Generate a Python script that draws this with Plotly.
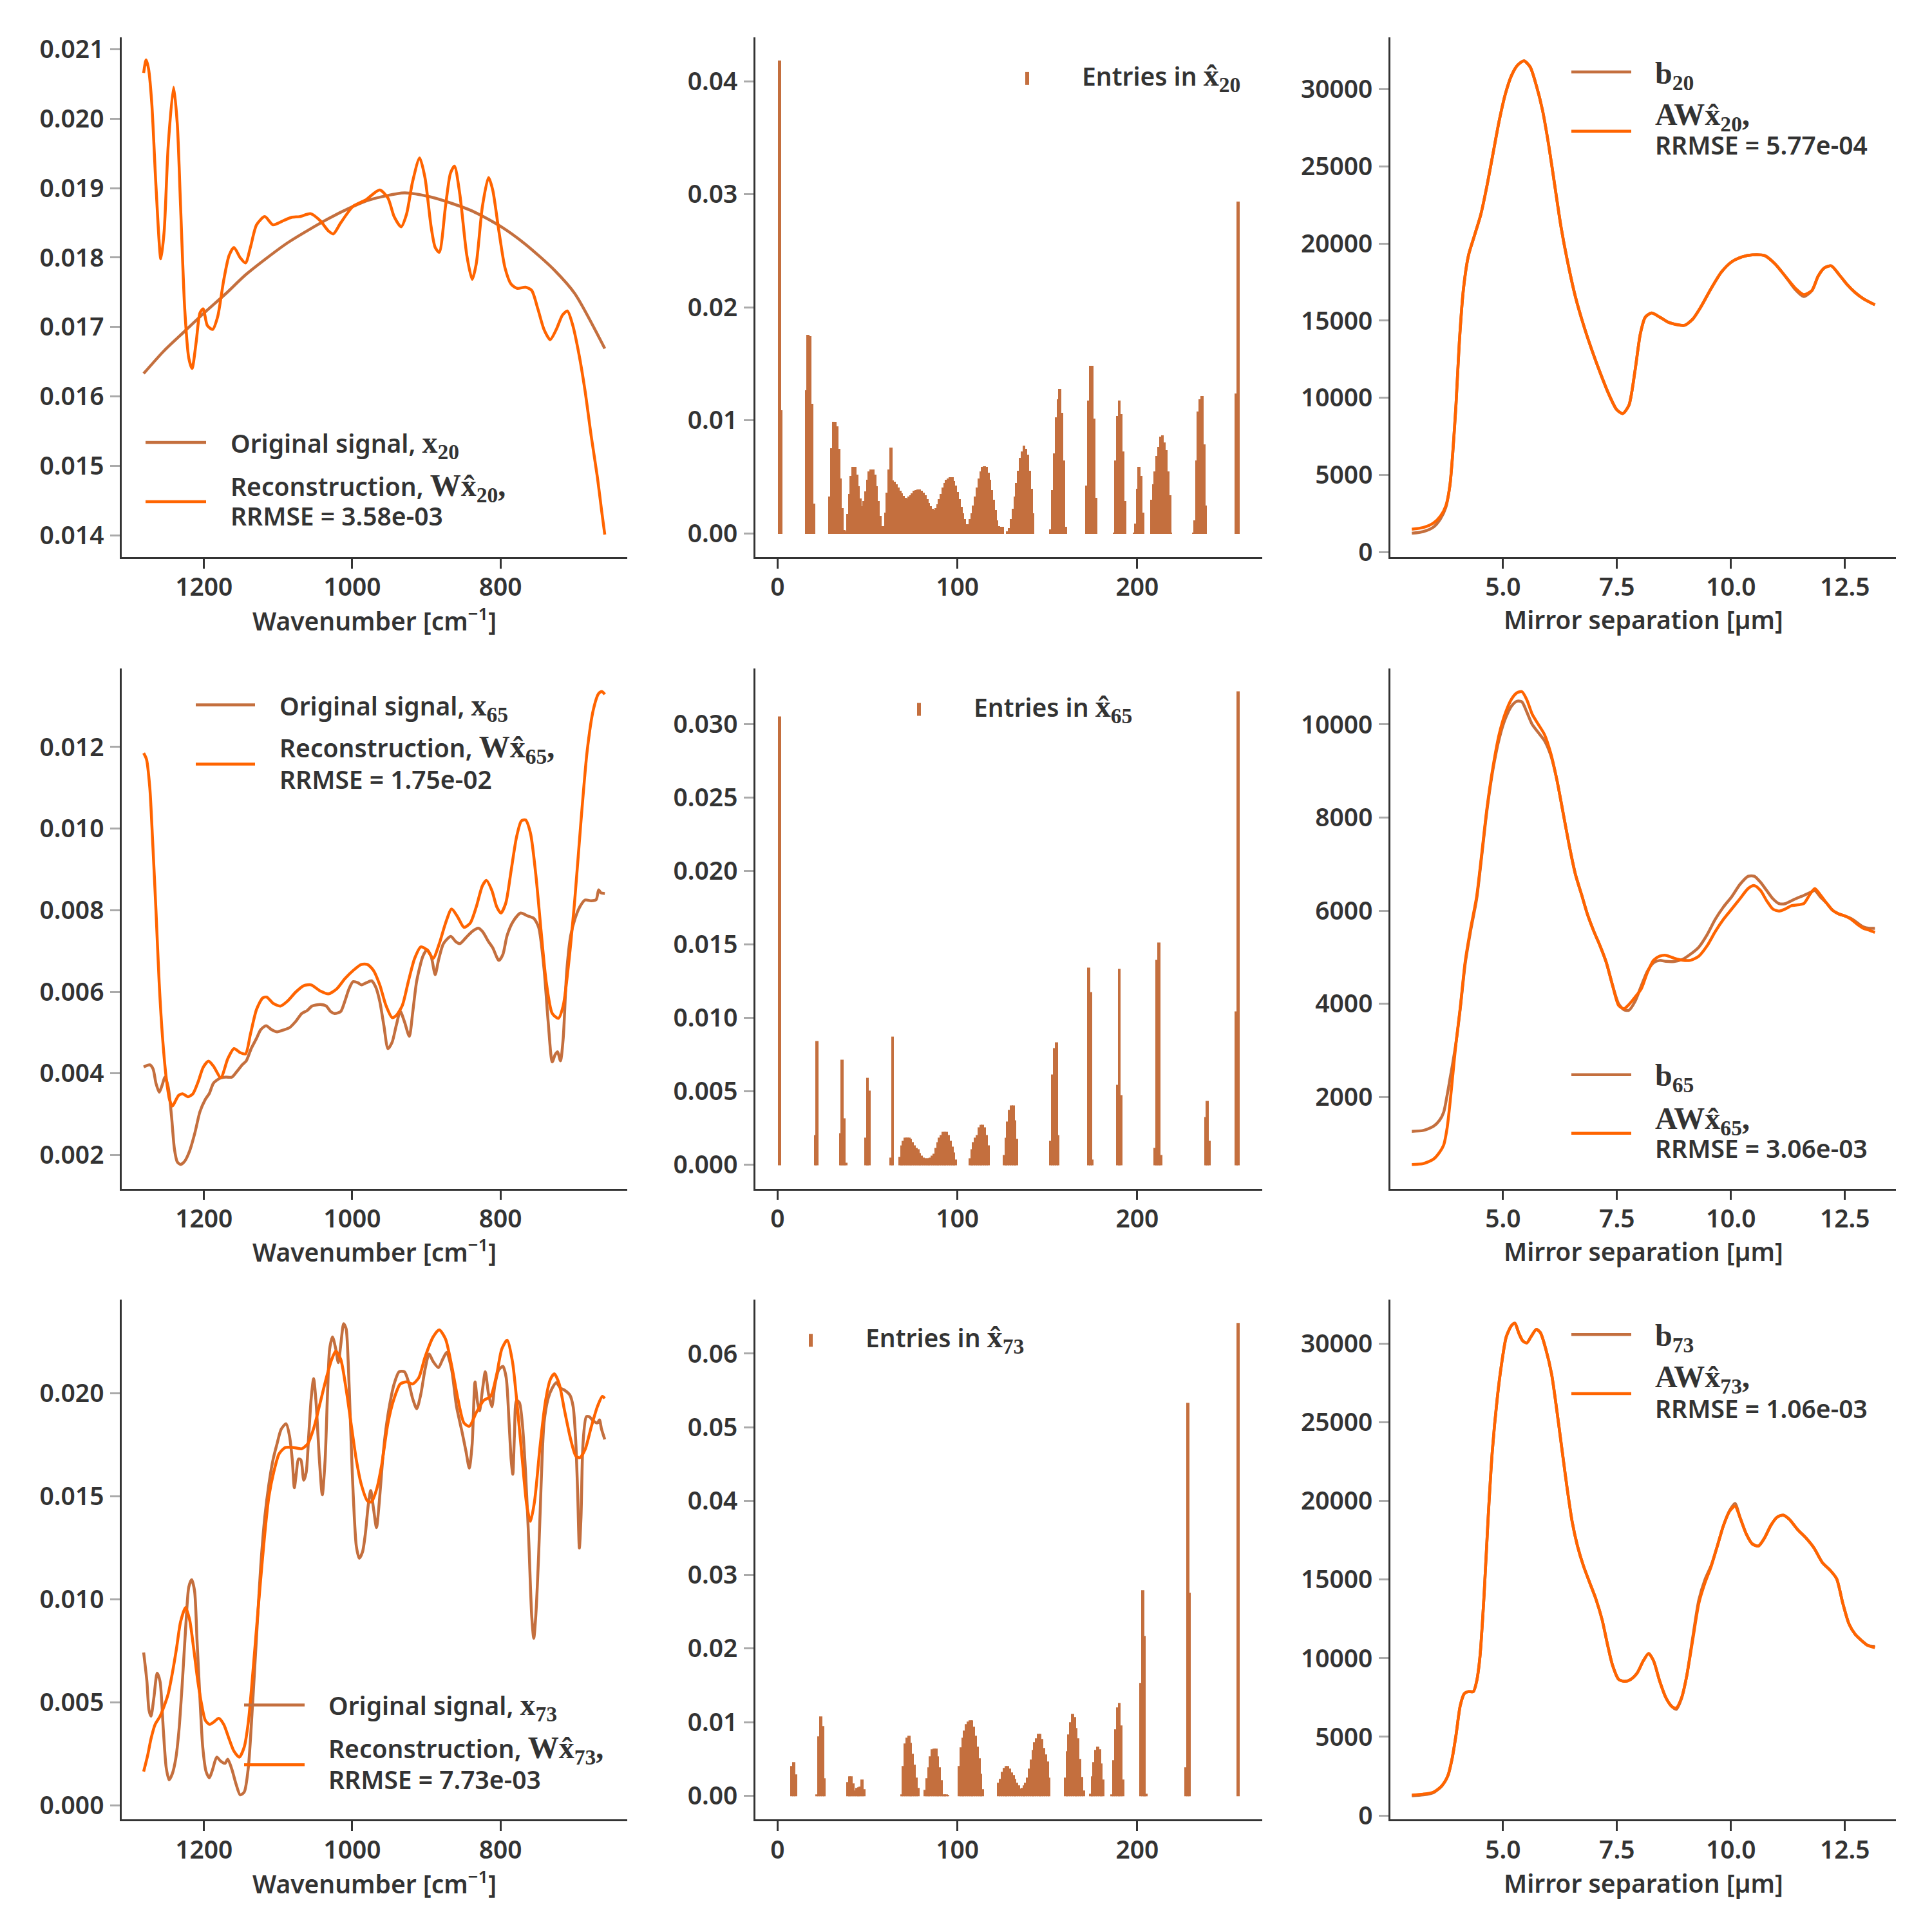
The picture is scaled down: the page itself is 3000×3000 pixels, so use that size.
import plotly.graph_objects as go

BROWN = "#C46F3E"
ORANGE = "#FF6400"
TXT = "#333333"
TICKGREY = "#AAAAAA"
FONT = "Noto Sans"
SERIF = "Liberation Serif"
FS = 39
WEIGHT = 600
MATH_PX = 48

# ---------------- Left column: spectra (wavenumber) ----------------
X20_ORIG_WN = [1281.4, 1253.7, 1226.0, 1200.0, 1170.6, 1142.9, 1087.5, 1032.1, 1000.0, 976.7,
               929.6, 893.6, 865.9, 838.2, 800.0, 766.2, 727.4, 699.7, 659.3]
X20_ORIG = [0.01633, 0.01666, 0.01694, 0.0172, 0.01748, 0.01776, 0.01821, 0.01856, 0.01873, 0.01883,
            0.01893, 0.01887, 0.01878, 0.01867, 0.01845, 0.01819, 0.01782, 0.01748, 0.01669]
X20_REC_WN = [1281.4, 1278.1, 1274.8, 1270.4, 1264.8, 1258.2, 1253.7, 1248.2, 1241.0, 1236.0,
              1231.6, 1226.0, 1220.5, 1216.1, 1210.5, 1205.5, 1201.1, 1195.6, 1188.4, 1181.7,
              1173.4, 1166.2, 1159.6, 1151.2, 1144.0, 1137.4, 1129.1, 1118.0, 1106.9, 1093.1,
              1082.0, 1070.9, 1056.0, 1043.2, 1032.1, 1025.5, 1015.5, 998.9, 982.3, 962.9,
              951.8, 943.5, 934.1, 926.9, 918.6, 909.1, 901.9, 893.6, 888.1, 882.6,
              874.2, 867.6, 862.1, 854.9, 845.4, 838.2, 832.7, 824.4, 816.1, 810.5,
              802.2, 793.9, 785.6, 777.3, 766.2, 757.9, 749.6, 741.3, 733.0, 724.7,
              716.4, 709.7, 702.5, 694.2, 685.9, 677.6, 669.3, 663.7, 659.3]
X20_REC = [0.020657, 0.020846, 0.020716, 0.020214, 0.019032, 0.017981, 0.018383, 0.019623, 0.02045, 0.019918,
           0.018737, 0.017261, 0.016552, 0.016404, 0.016788, 0.017201, 0.017261, 0.017024, 0.016965, 0.017142,
           0.017674, 0.018028, 0.018146, 0.017999, 0.017922, 0.018146, 0.018471, 0.018589, 0.018471, 0.01853,
           0.018578, 0.018589, 0.018631, 0.01853, 0.018383, 0.018341, 0.018501, 0.018737, 0.018826, 0.018973,
           0.018855, 0.018589, 0.018442, 0.018619, 0.019092, 0.019434, 0.019151, 0.018442, 0.018146, 0.018076,
           0.018737, 0.01921, 0.019316, 0.018914, 0.018028, 0.017686, 0.01791, 0.018737, 0.019151, 0.018973,
           0.018383, 0.017851, 0.017615, 0.017556, 0.017573, 0.017526, 0.017261, 0.016965, 0.016818, 0.016965,
           0.017172, 0.017231, 0.017024, 0.016611, 0.016079, 0.015429, 0.014839, 0.014366, 0.014012]

X65_ORIG_WN = [1281.4, 1273.1, 1268.7, 1264.8, 1260.4, 1256.5, 1252.6, 1248.2, 1243.8, 1239.9,
               1236.0, 1231.6, 1226.0, 1219.4, 1212.2, 1205.5, 1198.3, 1192.8, 1187.3, 1178.9,
               1170.6, 1162.3, 1155.1, 1148.5, 1142.9, 1136.3, 1129.1, 1123.5, 1116.3, 1108.6,
               1101.4, 1092.0, 1084.8, 1076.5, 1068.1, 1060.9, 1054.3, 1043.2, 1034.9, 1029.4,
               1023.8, 1015.5, 1010.0, 1004.4, 998.9, 992.2, 987.8, 981.2, 974.0, 968.4,
               962.9, 957.3, 951.8, 946.3, 940.7, 935.2, 929.6, 923.0, 918.6, 913.0,
               904.7, 899.2, 893.6, 888.1, 883.7, 877.0, 867.0, 860.4, 854.9, 846.5,
               838.2, 829.9, 824.4, 816.1, 810.5, 802.2, 796.7, 791.1, 782.8, 772.9,
               763.4, 755.1, 748.5, 741.3, 735.7, 730.2, 726.3, 723.0, 719.1, 715.4,
               710.8, 705.3, 699.7, 693.1, 685.9, 677.6, 670.9, 667.6, 664.8, 659.3]
X65_ORIG = [0.00416, 0.00421, 0.00411, 0.00376, 0.00354, 0.00371, 0.00391, 0.00366, 0.00295, 0.00215,
            0.00183, 0.00177, 0.00185, 0.0021, 0.00255, 0.00306, 0.00336, 0.00351, 0.00376, 0.00388,
            0.00391, 0.00391, 0.00406, 0.00421, 0.00431, 0.00461, 0.00486, 0.00507, 0.00517, 0.00507,
            0.00502, 0.00507, 0.00512, 0.00527, 0.00547, 0.00554, 0.00565, 0.00569, 0.00565, 0.00552,
            0.00547, 0.00552, 0.00577, 0.00607, 0.00625, 0.00622, 0.00617, 0.00622, 0.00627, 0.00612,
            0.00577, 0.00517, 0.00461, 0.00476, 0.00517, 0.00552, 0.00527, 0.00491, 0.00547, 0.00627,
            0.00687, 0.00703, 0.00687, 0.00642, 0.00677, 0.00718, 0.00736, 0.00723, 0.00718, 0.00733,
            0.00748, 0.00756, 0.00748, 0.00723, 0.00708, 0.00677, 0.00692, 0.00738, 0.00773, 0.00793,
            0.00786, 0.0078, 0.00758, 0.00657, 0.00527, 0.00428, 0.00446, 0.00453, 0.00431, 0.00486,
            0.00647, 0.00738, 0.00778, 0.00808, 0.00825, 0.00823, 0.00826, 0.0085, 0.00843, 0.00841]
X65_REC_WN = [1281.4, 1277.6, 1273.1, 1269.3, 1264.8, 1260.4, 1256.0, 1251.0, 1246.5, 1242.7,
              1234.3, 1228.8, 1221.6, 1215.0, 1207.8, 1201.1, 1193.9, 1187.3,
              1177.3, 1167.9, 1159.6, 1151.2, 1144.0, 1137.4, 1129.1, 1120.8, 1115.2, 1106.9,
              1096.9, 1087.5, 1076.5, 1065.4, 1055.4, 1043.2, 1032.1, 1021.0, 1010.0, 998.9,
              987.8, 979.5, 971.2, 962.9, 954.6, 946.3, 940.7, 932.4, 924.1, 915.8,
              907.5, 899.2, 890.9, 882.6, 874.2, 865.9, 857.6, 849.3, 841.0, 832.7,
              824.4, 818.8, 811.6, 805.0, 799.5, 792.8, 785.6, 778.4, 771.8, 766.2,
              759.6, 752.4, 745.2, 738.5, 730.2, 721.9, 715.3, 708.2, 699.7, 691.4,
              683.1, 674.8, 667.6, 663.2, 659.3]
X65_REC = [0.01185, 0.0117, 0.0110, 0.0097, 0.0080, 0.0062, 0.0049, 0.0039, 0.00336, 0.0032,
           0.00346, 0.0035, 0.00343, 0.0035, 0.0038, 0.00415, 0.0043, 0.00418,
           0.0039, 0.00436, 0.00461, 0.00451, 0.00448, 0.00496, 0.00557, 0.00585, 0.00587, 0.00572,
           0.00565, 0.00577, 0.00599, 0.00615, 0.00617, 0.00602, 0.00595, 0.00607, 0.00632, 0.00652,
           0.00667, 0.00667, 0.00652, 0.00617, 0.00567, 0.00537, 0.00542, 0.00567, 0.00627, 0.00682,
           0.0071, 0.00703, 0.00682, 0.00718, 0.00768, 0.00803, 0.00783, 0.00758, 0.00768, 0.00808,
           0.0086, 0.00873, 0.00848, 0.00808, 0.00793, 0.00818, 0.00898, 0.00979, 0.01019, 0.01021,
           0.00989, 0.00888, 0.00748, 0.00627, 0.00547, 0.00535, 0.00567, 0.00667, 0.00828, 0.01019,
           0.0119, 0.01291, 0.01331, 0.01336, 0.01329]

X73_ORIG_WN = [1281.4, 1277.0, 1274.2, 1271.5, 1267.6, 1263.2, 1259.3, 1254.8, 1251.0, 1247.1,
               1242.7, 1238.2, 1233.8, 1228.8, 1224.4, 1220.5, 1216.6, 1212.7, 1209.4, 1205.5,
               1201.7, 1197.2, 1192.8, 1188.4, 1182.8, 1177.3, 1171.7, 1167.9, 1162.3, 1156.8,
               1151.2, 1145.7, 1140.2, 1134.6, 1129.1, 1123.5, 1118.0, 1112.5, 1106.9, 1101.4,
               1095.8, 1089.2, 1084.8, 1080.9, 1078.1, 1075.3, 1072.6, 1069.3, 1065.4, 1062.1,
               1058.7, 1055.4, 1052.1, 1048.8, 1044.3, 1040.4, 1036.6, 1033.2, 1030.5, 1026.6,
               1022.2, 1018.8, 1015.5, 1011.6, 1008.3, 1005.5, 1002.8, 1000.0, 997.2, 994.5,
               990.6, 986.2, 982.3, 978.4, 975.1, 971.2, 967.3, 963.4, 959.0, 954.6,
               949.0, 943.5, 936.8, 929.6, 924.1, 918.6, 913.0, 907.5, 901.9, 896.4,
               890.9, 883.7, 878.1, 872.6, 865.9, 859.3, 852.1, 846.5, 842.1, 838.2,
               834.4, 831.0, 828.3, 824.4, 820.5, 816.1, 811.6, 807.8, 802.2, 796.7,
               792.3, 788.4, 785.6, 783.4, 781.2, 778.4, 774.5, 770.6, 766.2, 761.8,
               757.9, 755.1, 752.4, 748.5, 745.2, 741.3, 735.7, 730.2, 724.7, 719.1,
               713.6, 706.4, 702.0, 698.6, 695.9, 693.6, 691.4, 688.7, 684.2, 680.3,
               674.8, 669.3, 666.5, 663.7, 659.3]
X73_ORIG = [0.00742, 0.00602, 0.00463, 0.00433, 0.00523, 0.00642, 0.00602, 0.00364, 0.00185, 0.00125,
            0.00155, 0.00225, 0.00364, 0.00622, 0.00881, 0.0106, 0.01095, 0.0104, 0.00801, 0.00523,
            0.00284, 0.00165, 0.00135, 0.00175, 0.00235, 0.00215, 0.00205, 0.00225, 0.00175, 0.00105,
            0.00052, 0.00066, 0.00185, 0.00483, 0.00821, 0.01159, 0.01398, 0.01557, 0.01676, 0.01755,
            0.01825, 0.01851, 0.01795, 0.01676, 0.01541, 0.01616, 0.0168, 0.01676, 0.01577, 0.01616,
            0.01795, 0.01974, 0.0207, 0.01954, 0.01676, 0.01507, 0.01676, 0.02014, 0.02213, 0.02272,
            0.02213, 0.02147, 0.02233, 0.02336, 0.02312, 0.02153, 0.01895, 0.01616, 0.01398, 0.01258,
            0.01199, 0.01229, 0.01318, 0.01457, 0.01527, 0.01437, 0.01348, 0.01477, 0.01676, 0.01825,
            0.01954, 0.02044, 0.02103, 0.02103, 0.02054, 0.01974, 0.01924, 0.01994, 0.02113, 0.02189,
            0.02153, 0.02123, 0.02163, 0.02197, 0.02113, 0.01934, 0.01815, 0.01716, 0.01636, 0.01755,
            0.02054, 0.01954, 0.01914, 0.02014, 0.02103, 0.01994, 0.01934, 0.02034, 0.02113, 0.02129,
            0.02074, 0.01855, 0.01676, 0.01606, 0.01795, 0.01964, 0.01954, 0.01855, 0.01616, 0.01278,
            0.0092, 0.00811, 0.0092, 0.01219, 0.01557, 0.01855, 0.01974, 0.02024, 0.0205, 0.02024,
            0.02014, 0.0199, 0.01934, 0.01775, 0.01517, 0.01249, 0.01398, 0.01755, 0.01885, 0.01885,
            0.01865, 0.01855, 0.0187, 0.01825, 0.01775]
X73_REC_WN = [1281.4, 1275.9, 1271.5, 1265.9, 1259.3, 1253.7, 1248.2, 1242.7, 1237.1, 1231.6,
              1224.9, 1219.4, 1213.9, 1208.3, 1202.8, 1198.3, 1192.8, 1187.3, 1180.1, 1173.4,
              1166.2, 1159.6, 1152.4, 1145.7, 1140.2, 1134.6, 1129.1, 1123.5, 1118.0, 1112.5,
              1105.3, 1098.6, 1090.3, 1079.2, 1068.1, 1059.8, 1051.5, 1043.2, 1034.9, 1027.7,
              1022.2, 1015.5, 1008.9, 1001.7, 994.5, 987.8, 979.5, 974.0, 966.8, 960.1,
              951.8, 943.5, 935.2, 926.9, 918.6, 910.3, 901.9, 890.9, 882.6, 874.2,
              865.9, 857.6, 849.3, 842.1, 832.7, 822.7, 813.3, 805.0, 798.3, 791.1,
              783.9, 777.3, 770.6, 764.6, 759.6, 754.0, 746.8, 739.6, 733.0, 727.4,
              720.8, 713.6, 705.3, 698.6, 693.1, 685.9, 677.6, 669.3, 662.6, 659.3]
X73_REC = [0.00165, 0.00245, 0.00324, 0.00394, 0.00433, 0.00483, 0.00543, 0.00642, 0.00761, 0.00891,
           0.0096, 0.00901, 0.00761, 0.00602, 0.00483, 0.00414, 0.00394, 0.00404, 0.00423, 0.00394,
           0.00324, 0.00264, 0.00235, 0.00284, 0.00404, 0.00622, 0.00861, 0.01099, 0.01318, 0.01497,
           0.01626, 0.01706, 0.01736, 0.01736, 0.0173, 0.01755, 0.01835, 0.01954, 0.02074, 0.02163,
           0.02203, 0.02163, 0.02034, 0.01855, 0.01676, 0.01557, 0.01477, 0.01473, 0.01537, 0.01656,
           0.01855, 0.01974, 0.02044, 0.02054, 0.02044, 0.02074, 0.02173, 0.02272, 0.02306, 0.02262,
           0.02133, 0.01974, 0.01855, 0.01839, 0.01905, 0.01964, 0.01984, 0.02093, 0.02213, 0.02256,
           0.02153, 0.01934, 0.01676, 0.01457, 0.01378, 0.01477, 0.01736, 0.01954, 0.02064, 0.02093,
           0.02044, 0.01915, 0.01775, 0.01696, 0.01686, 0.01726, 0.01835, 0.01934, 0.01984, 0.01974]

# ---------------- Middle column: sparse coefficients ----------------
IDX = list(range(1, 257))
XHAT20 = [
    0.0418, 0.01085, 0, 0, 0, 0, 0, 0, 0, 0,
    0, 0, 0, 0, 0, 0.0126, 0.0175, 0.0174, 0.0114, 0.0026,
    0, 0, 0, 0, 0, 0, 0, 0, 0.0032, 0.0075,
    0.0098, 0.0098, 0.0094, 0.0074, 0.0048, 0.0022, 0.00027, 0.00015, 0.00165, 0.00345,
    0.005, 0.00585, 0.00585, 0.00514, 0.0041, 0.00305, 0.00237, 0.0028, 0.00368, 0.0047,
    0.00545, 0.0056, 0.0056, 0.00516, 0.00414, 0.00283, 0.00152, 0.00057, 0.0006, 0.0018,
    0.00357, 0.0056, 0.00755, 0.00465, 0.0045, 0.0043, 0.004, 0.00374, 0.0035, 0.00328,
    0.0031, 0.00304, 0.0032, 0.0033, 0.0035, 0.0037, 0.0038, 0.00385, 0.00383, 0.0037,
    0.00357, 0.0033, 0.003, 0.00266, 0.00237, 0.00213, 0.002, 0.0022, 0.0025, 0.003,
    0.00345, 0.004, 0.0044, 0.0047, 0.0048, 0.0049, 0.0049, 0.0046, 0.0042, 0.0036,
    0.003, 0.0023, 0.0017, 0.0012, 0.00076, 0.00076, 0.0012, 0.0017, 0.0024, 0.0032,
    0.004, 0.0048, 0.0054, 0.0058, 0.0059, 0.00585, 0.0053, 0.0047, 0.0038, 0.0029,
    0.002, 0.0011, 0.00057, 0.0005, 0.0005, 0, 0, 0.0001, 0.0004, 0.0012,
    0.0021, 0.0032, 0.0044, 0.0055, 0.0066, 0.0072, 0.0077, 0.0074, 0.0069, 0.0055,
    0.0039, 0.0017, 0, 0, 0, 0, 0, 0, 0, 0,
    0, 0.0003, 0.0038, 0.007, 0.0102, 0.0118, 0.0127, 0.0106, 0.0064, 0.00055,
    0, 0, 0, 0, 0, 0, 0, 0, 0, 0,
    0, 0.0042, 0.0117, 0.0148, 0.0148, 0.0101, 0.0031, 0, 0, 0,
    0, 0, 0, 0, 0, 0, 0.00004, 0.0064, 0.0103, 0.0117,
    0.0105, 0.0072, 0.0028, 0, 0, 0, 0, 0.00003, 0.0008, 0.0039,
    0.0058, 0.005, 0.0018, 0, 0, 0, 0, 0.0029, 0.0043, 0.0054,
    0.0068, 0.0076, 0.0085, 0.0086, 0.008, 0.0073, 0.0054, 0.0033, 0.00004, 0,
    0, 0, 0, 0, 0, 0, 0, 0, 0, 0,
    0.00004, 0.0011, 0.0064, 0.0107, 0.0118, 0.0121, 0.0078, 0.0024, 0, 0,
    0, 0, 0, 0, 0, 0, 0, 0, 0, 0,
    0, 0, 0, 0, 0.0123, 0.0293]
XHAT65 = [
    0.0305, 0, 0, 0, 0, 0, 0, 0, 0, 0,
    0, 0, 0, 0, 0, 0, 0, 0, 0, 0,
    0.002, 0.0084, 0, 0, 0, 0, 0, 0, 0, 0,
    0, 0, 0, 0, 0.0021, 0.0071, 0.0031, 0.0001, 0, 0,
    0, 0, 0, 0, 0, 0, 0, 0, 0.0018, 0.0059,
    0.005, 0, 0, 0, 0, 0, 0, 0, 0, 0,
    0, 0, 0.00045, 0.0087, 0, 0, 0, 0.0005, 0.0013, 0.0016,
    0.0018, 0.0018, 0.0018, 0.0017, 0.0015, 0.0013, 0.0011, 0.001, 0.00075, 0.00056,
    0.00045, 0.00042, 0.00042, 0.00042, 0.00045, 0.00056, 0.0007, 0.0011, 0.0015, 0.0018,
    0.002, 0.0022, 0.0022, 0.0022, 0.002, 0.0016, 0.0012, 0.0008, 0.0003, 0,
    0, 0, 0, 0, 0, 0, 0.0004, 0.001, 0.0015, 0.0018,
    0.002, 0.0025, 0.0027, 0.0027, 0.0025, 0.002, 0.0013, 0, 0, 0,
    0, 0, 0, 0, 0, 0.00064, 0.0018, 0.0029, 0.0037, 0.004,
    0.004, 0.003, 0.0017, 0, 0, 0, 0, 0, 0, 0,
    0, 0, 0, 0, 0, 0, 0, 0, 0, 0,
    0, 0.0016, 0.0061, 0.0079, 0.0083, 0.002, 0, 0, 0, 0,
    0, 0, 0, 0, 0, 0, 0, 0, 0, 0,
    0, 0, 0.0134, 0.0117, 0.0003, 0, 0, 0, 0, 0,
    0, 0, 0, 0, 0, 0, 0, 0, 0.0054, 0.0133,
    0.0047, 0, 0, 0, 0, 0, 0, 0, 0, 0,
    0, 0, 0, 0, 0, 0, 0, 0, 0, 0.0011,
    0.0139, 0.0151, 0.00064, 0, 0, 0, 0, 0, 0, 0,
    0, 0, 0, 0, 0, 0, 0, 0, 0, 0,
    0, 0, 0, 0, 0, 0, 0, 0.0032, 0.0043, 0.0016,
    0, 0, 0, 0, 0, 0, 0, 0, 0, 0,
    0, 0, 0, 0, 0.0104, 0.0322]
XHAT73 = [
    0, 0, 0, 0, 0, 0, 0, 0.004, 0.0045, 0.0028,
    0, 0, 0, 0, 0, 0, 0, 0, 0, 0,
    0, 0.0001, 0.008, 0.0107, 0.0094, 0.0023, 0, 0, 0, 0,
    0, 0, 0, 0, 0, 0, 0, 0, 0.0018, 0.0026,
    0.0026, 0.0016, 0.0006, 0.001, 0.0011, 0.0012, 0.0021, 0.0008, 0, 0,
    0, 0, 0, 0, 0, 0, 0, 0, 0, 0,
    0, 0, 0, 0, 0, 0, 0, 0, 0.0001, 0.004,
    0.007, 0.0078, 0.0081, 0.0071, 0.0056, 0.0041, 0.0024, 0.001, 0, 0,
    0, 0.0007, 0.0023, 0.0038, 0.0053, 0.0062, 0.0063, 0.0063, 0.0053, 0.0038,
    0.002, 0.0001, 0.0001, 0.0001, 0.00005, 0, 0, 0, 0, 0,
    0.004, 0.0065, 0.0078, 0.0088, 0.0096, 0.01, 0.0102, 0.0102, 0.0093, 0.0081,
    0.0066, 0.005, 0.0029, 0.0008, 0, 0, 0, 0, 0, 0,
    0, 0, 0.0017, 0.0022, 0.0032, 0.0037, 0.004, 0.004, 0.0036, 0.0031,
    0.0027, 0.0022, 0.0017, 0.0013, 0.0009, 0.001, 0.0013, 0.0017, 0.0024, 0.0036,
    0.0048, 0.0061, 0.0072, 0.0077, 0.0083, 0.0083, 0.0076, 0.0064, 0.0055, 0.0046,
    0.0024, 0, 0, 0, 0, 0, 0, 0, 0, 0.0024,
    0.006, 0.0082, 0.0099, 0.011, 0.0106, 0.0091, 0.0077, 0.0049, 0.0025, 0.0006,
    0, 0, 0, 0.0002, 0.0026, 0.0045, 0.0061, 0.0066, 0.0062, 0.0043,
    0.0021, 0, 0, 0, 0, 0.0001, 0.0047, 0.0089, 0.0119, 0.0125,
    0.0095, 0.0021, 0, 0, 0, 0, 0, 0, 0, 0,
    0, 0.0152, 0.0278, 0.0216, 0.0002, 0, 0, 0, 0, 0,
    0, 0, 0, 0, 0, 0, 0, 0, 0, 0,
    0, 0, 0, 0, 0, 0, 0.0038, 0.0532, 0.0275, 0,
    0, 0, 0, 0, 0, 0, 0, 0, 0, 0,
    0, 0, 0, 0, 0, 0, 0, 0, 0, 0,
    0, 0, 0, 0, 0, 0.0641]

# ---------------- Right column: interferograms (mirror separation) ----------------
UM20 = [3.0, 3.249, 3.475, 3.628, 3.746, 3.836, 3.899, 3.971, 4.043, 4.134,
        4.242, 4.377, 4.513, 4.648, 4.783, 4.919, 5.054, 5.19, 5.325, 5.46,
        5.596, 5.731, 5.866, 6.002, 6.137, 6.273, 6.408, 6.588, 6.769, 6.949,
        7.13, 7.31, 7.491, 7.626, 7.762, 7.897, 8.014, 8.123, 8.258, 8.439,
        8.619, 8.8, 8.98, 9.161, 9.341, 9.567, 9.792, 10.018, 10.244, 10.469,
        10.74, 10.966, 11.191, 11.417, 11.597, 11.778, 11.913, 12.048, 12.202, 12.364,
        12.545, 12.725, 12.906, 13.159]
B20 = [1222, 1329, 1620, 2150, 2900, 4331, 6456, 9645, 13630, 17085,
       19210, 20539, 21867, 23727, 25852, 27978, 29705, 30901, 31566, 31831,
       31432, 30237, 28643, 26384, 23727, 21070, 18944, 16553, 14693, 13099,
       11638, 10309, 9246, 8981, 9512, 11770, 14162, 15225, 15490, 15225,
       14906, 14746, 14693, 15092, 15889, 17084, 18147, 18812, 19130, 19263,
       19210, 18679, 17882, 17000, 16560, 16952, 17882, 18413, 18546, 18015,
       17350, 16819, 16420, 16022]
AWX20 = [1488, 1594, 1886, 2338, 3002, 4331, 6456, 9645, 13630, 17085,
         19210, 20539, 21867, 23727, 25852, 27978, 29705, 30901, 31566, 31831,
         31432, 30237, 28643, 26384, 23727, 21070, 18944, 16553, 14693, 13099,
         11638, 10309, 9246, 8981, 9512, 11770, 14162, 15225, 15490, 15225,
         14906, 14746, 14693, 15092, 15889, 17084, 18147, 18812, 19130, 19263,
         19210, 18679, 17882, 17085, 16686, 16952, 17882, 18413, 18546, 18015,
         17350, 16819, 16420, 16022]

UM65 = [3.0, 3.249, 3.475, 3.61, 3.7, 3.773, 3.836, 3.899, 3.971, 4.061,
        4.17, 4.287, 4.422, 4.531, 4.648, 4.783, 4.919, 5.054, 5.19, 5.307,
        5.415, 5.523, 5.641, 5.776, 5.912, 6.047, 6.182, 6.318, 6.453, 6.588,
        6.724, 6.859, 6.995, 7.13, 7.265, 7.401, 7.536, 7.653, 7.762, 7.897,
        8.032, 8.168, 8.303, 8.439, 8.574, 8.754, 8.935, 9.115, 9.296, 9.476,
        9.657, 9.837, 10.018, 10.198, 10.379, 10.514, 10.65, 10.785, 10.92, 11.056,
        11.191, 11.327, 11.462, 11.597, 11.733, 11.841, 11.958, 12.094, 12.229, 12.364,
        12.5, 12.635, 12.771, 12.906, 13.041, 13.159]
B65 = [1260, 1278, 1366, 1498, 1674, 2026, 2379, 2731, 3172, 3880,
       4850, 5550, 6250, 7150, 8150, 9050, 9700, 10130, 10400, 10500,
       10485, 10265, 10000, 9824, 9648, 9340, 8811, 8106, 7401, 6784,
       6344, 5903, 5551, 5242, 4890, 4405, 4000, 3870, 3860, 4050,
       4380, 4700, 4880, 4930, 4910, 4908, 4952, 5066, 5216, 5480,
       5815, 6080, 6300, 6564, 6740, 6740, 6608, 6432, 6256, 6150,
       6150, 6212, 6273, 6326, 6388, 6432, 6300, 6168, 6009, 5930,
       5886, 5830, 5740, 5650, 5620, 5621]
AWX65 = [546, 564, 661, 811, 969, 1322, 1850, 2467, 3172, 3900,
         4900, 5600, 6300, 7200, 8200, 9100, 9800, 10250, 10550, 10680,
         10705, 10529, 10220, 10000, 9780, 9384, 8811, 8106, 7401, 6784,
         6344, 5903, 5551, 5242, 4890, 4405, 3965, 3894, 3982, 4141,
         4317, 4670, 4934, 5022, 5040, 4978, 4934, 4934, 5022, 5242,
         5551, 5815, 6035, 6256, 6476, 6538, 6432, 6212, 6035, 5991,
         6035, 6106, 6124, 6150, 6350, 6476, 6344, 6168, 6009, 5930,
         5886, 5815, 5709, 5621, 5577, 5533]

UM73 = [3.0, 3.249, 3.475, 3.655, 3.791, 3.881, 3.971, 4.061, 4.152, 4.242,
        4.35, 4.422, 4.495, 4.585, 4.675, 4.765, 4.874, 4.964, 5.072, 5.19,
        5.262, 5.343, 5.433, 5.523, 5.614, 5.731, 5.821, 5.939, 6.065, 6.182,
        6.3, 6.408, 6.516, 6.634, 6.769, 6.904, 7.04, 7.175, 7.292, 7.401,
        7.536, 7.671, 7.807, 7.942, 8.078, 8.195, 8.303, 8.439, 8.574, 8.709,
        8.8, 8.917, 9.025, 9.161, 9.296, 9.431, 9.567, 9.702, 9.837, 9.973,
        10.09, 10.198, 10.334, 10.469, 10.605, 10.74, 10.875, 11.011, 11.146, 11.281,
        11.462, 11.642, 11.823, 12.003, 12.184, 12.319, 12.455, 12.59, 12.725, 12.861,
        12.996, 13.159]
B73 = [1250, 1310, 1450, 1860, 2520, 3574, 5139, 6965, 7748, 7878,
       7878, 8530, 10096, 14009, 18965, 23139, 26530, 28617, 30443, 31174,
       31304, 30704, 30183, 30052, 30443, 30913, 30704, 29661, 28096, 25748,
       23139, 20791, 18705, 17139, 15835, 14791, 13748, 12443, 10878, 9574,
       8661, 8530, 8661, 9052, 9835, 10304, 9835, 8530, 7487, 6913,
       6750, 7450, 8791, 11300, 13700, 15000, 15900, 17139, 18443, 19400,
       19850, 18965, 17922, 17270, 17139, 17661, 18443, 18965, 19096, 18835,
       18183, 17661, 17009, 16096, 15574, 15052, 13487, 12183, 11530, 11139,
       10826, 10750]
AWX73 = [1304, 1357, 1487, 1878, 2530, 3574, 5139, 6965, 7748, 7878,
         7878, 8530, 10096, 14009, 18965, 23139, 26530, 28617, 30443, 31174,
         31304, 30704, 30183, 30052, 30443, 30913, 30704, 29661, 28096, 25748,
         23139, 20791, 18705, 17139, 15835, 14791, 13748, 12443, 10878, 9574,
         8661, 8530, 8661, 9052, 9835, 10304, 9835, 8530, 7487, 6913,
         6835, 7487, 8791, 11139, 13487, 14791, 15835, 17139, 18443, 19357,
         19670, 18965, 17922, 17270, 17139, 17661, 18443, 18965, 19096, 18835,
         18183, 17661, 17009, 16096, 15574, 15052, 13487, 12183, 11530, 11139,
         10826, 10670]

SIGNAL_IDS = ["20", "65", "73"]
RRMSE_X = ["3.58e-03", "1.75e-02", "7.73e-03"]
RRMSE_B = ["5.77e-04", "3.06e-03", "1.06e-03"]

WN_TICKS = [1200, 1000, 800]
IDX_TICKS = [0, 100, 200]
UM_TICKS = [5.0, 7.5, 10.0, 12.5]
UM_TICKTEXT = ["5.0", "7.5", "10.0", "12.5"]

# ---------------- Layout geometry (target pixels in 3000x3000 picture) ----------------
W = H = 3000
COLX = [(189, 974), (1173, 1960), (2159, 2944)]
ROWY = [(56, 864), (1037, 1846), (2019, 2827)]
# vertical calibration of the page capture (measured: picture_y ~= 8 + 0.992 * page_y)
Y_OFF, Y_SCALE = 8.0, 0.992


def vy(y):
    """target picture row -> page pixel row"""
    return (y - Y_OFF) / Y_SCALE


YRANGES = [
    [[0.01369, 0.02117], [-0.00209, 0.04389], [-312, 33354]],
    [[0.00118, 0.01393], [-0.00161, 0.03381], [30, 11208]],
    [[-0.00067, 0.02452], [-0.0032, 0.0673], [-254, 32797]],
]
YTICKS = [
    [[0.014, 0.015, 0.016, 0.017, 0.018, 0.019, 0.020, 0.021], [0.0, 0.01, 0.02, 0.03, 0.04],
     [0, 5000, 10000, 15000, 20000, 25000, 30000]],
    [[0.002, 0.004, 0.006, 0.008, 0.010, 0.012], [0.0, 0.005, 0.010, 0.015, 0.020, 0.025, 0.030],
     [2000, 4000, 6000, 8000, 10000]],
    [[0.0, 0.005, 0.010, 0.015, 0.020], [0.0, 0.01, 0.02, 0.03, 0.04, 0.05, 0.06],
     [0, 5000, 10000, 15000, 20000, 25000, 30000]],
]
YFMT = [[".3f", ".2f", "d"], [".3f", ".3f", "d"], [".3f", ".2f", "d"]]
XRANGES = [[1311, 629], [-12.3, 269.5], [2.53, 13.62]]

fig = go.Figure()

LEFT = [(X20_ORIG_WN, X20_ORIG, X20_REC_WN, X20_REC),
        (X65_ORIG_WN, X65_ORIG, X65_REC_WN, X65_REC),
        (X73_ORIG_WN, X73_ORIG, X73_REC_WN, X73_REC)]
MID = [XHAT20, XHAT65, XHAT73]
RIGHT = [(UM20, B20, AWX20), (UM65, B65, AWX65), (UM73, B73, AWX73)]


def axname(k, letter):
    return letter if k == 1 else f"{letter}{k}"


LW = 4.5
for r in range(3):
    kL, kM, kR = r * 3 + 1, r * 3 + 2, r * 3 + 3
    ox, oy, rx, ry = LEFT[r]
    fig.add_trace(go.Scatter(x=ox, y=oy, mode="lines", line=dict(color=BROWN, width=LW, shape="spline", smoothing=0.7),
                             xaxis=axname(kL, "x"), yaxis=axname(kL, "y"), showlegend=False))
    fig.add_trace(go.Scatter(x=rx, y=ry, mode="lines", line=dict(color=ORANGE, width=LW, shape="spline", smoothing=0.7),
                             xaxis=axname(kL, "x"), yaxis=axname(kL, "y"), showlegend=False))
    # zero-valued coefficients are left undrawn (no outline stub on the baseline)
    yvals = [v if v != 0 else None for v in MID[r]]
    fig.add_trace(go.Bar(x=IDX, y=yvals, width=1.0,
                         marker=dict(color=BROWN, line=dict(color=BROWN, width=2)),
                         xaxis=axname(kM, "x"), yaxis=axname(kM, "y"), showlegend=False))
    um, b, awx = RIGHT[r]
    fig.add_trace(go.Scatter(x=um, y=b, mode="lines", line=dict(color=BROWN, width=LW, shape="spline", smoothing=0.7),
                             xaxis=axname(kR, "x"), yaxis=axname(kR, "y"), showlegend=False))
    fig.add_trace(go.Scatter(x=um, y=awx, mode="lines", line=dict(color=ORANGE, width=LW, shape="spline", smoothing=0.7),
                             xaxis=axname(kR, "x"), yaxis=axname(kR, "y"), showlegend=False))

TFONT = dict(family=FONT, size=FS, color=TXT, weight=WEIGHT)

layout = dict(width=W, height=H, margin=dict(l=0, r=0, t=0, b=0), autosize=False,
              paper_bgcolor="white", plot_bgcolor="white", showlegend=False,
              font=TFONT, bargap=0)

base = dict(showline=True, linecolor=TXT, linewidth=2.5, ticks="outside", ticklen=15, tickwidth=2.5,
            showgrid=False, zeroline=False, tickfont=TFONT, mirror=False)

for r in range(3):
    for c in range(3):
        k = r * 3 + c + 1
        xd = [COLX[c][0] / W, COLX[c][1] / W]
        yd = [1 - vy(ROWY[r][1]) / H, 1 - vy(ROWY[r][0]) / H]
        xa = dict(base, domain=xd, anchor=axname(k, "y"), range=XRANGES[c], tickcolor=TXT,
                  ticklabelstandoff=-4)
        if c == 0:
            xa.update(tickvals=WN_TICKS)
        elif c == 1:
            xa.update(tickvals=IDX_TICKS)
        else:
            xa.update(tickvals=UM_TICKS, ticktext=UM_TICKTEXT)
        ya = dict(base, domain=yd, anchor=axname(k, "x"), range=YRANGES[r][c], tickvals=YTICKS[r][c],
                  tickformat=YFMT[r][c], tickcolor=TICKGREY, ticklabelstandoff=2)
        layout["xaxis" if k == 1 else f"xaxis{k}"] = xa
        layout["yaxis" if k == 1 else f"yaxis{k}"] = ya


def px(x):
    return x / W


def py(y):
    return 1 - vy(y) / H


def m(s):
    return f"<span style='font-family:{SERIF};font-size:{MATH_PX}px'>{s}</span>"


shapes = []
annotations = []


def ann(x, y, text, xanchor="left"):
    annotations.append(dict(xref="paper", yref="paper", x=px(x), y=py(y), text=text, showarrow=False,
                            xanchor=xanchor, yanchor="middle", font=TFONT))


def seg(x0, x1, y, color):
    shapes.append(dict(type="line", xref="paper", yref="paper", x0=px(x0), x1=px(x1), y0=py(y), y1=py(y),
                       line=dict(color=color, width=LW)))


# left-column legends: (sample x0, x1, line1 y, line2 y, text x, t1 y, t2 y, t3 y)
LEFT_LEG = [(226, 320, 686, 778, 356, 689, 756, 800),
            (304, 396, 1094, 1186, 432, 1097, 1163, 1209),
            (379, 473, 2649, 2742, 508, 2652, 2719, 2764)]
for r, (a0, a1, l1, l2, tx, t1, t2, t3) in enumerate(LEFT_LEG):
    sid = SIGNAL_IDS[r]
    seg(a0, a1, l1, BROWN)
    seg(a0, a1, l2, ORANGE)
    ann(tx, t1, "Original signal, " + m(f"<b>x</b><sub>{sid}</sub>"))
    ann(tx, t2, "Reconstruction, " + m(f"<b>Wx\u0302</b><sub>{sid}</sub>,"))
    ann(tx, t3, f"RRMSE = {RRMSE_X[r]}")

# middle-column legends: (rect x0, x1, y0, y1, text x, text y)
MID_LEG = [(1592, 1598, 110, 130, 1678, 118),
           (1424, 1430, 1091, 1111, 1510, 1099),
           (1256, 1262, 2072, 2092, 1342, 2080)]
for r, (x0, x1, y0, y1, tx, ty) in enumerate(MID_LEG):
    sid = SIGNAL_IDS[r]
    shapes.append(dict(type="rect", xref="paper", yref="paper", x0=px(x0), x1=px(x1), y0=py(y1), y1=py(y0),
                       fillcolor=BROWN, line=dict(width=0)))
    ann(tx, ty, "Entries in " + m(f"<b>x\u0302</b><sub>{sid}</sub>"))

# right-column legends
RIGHT_LEG = [(2440, 2533, 110, 202, 2568, 115, 179, 223),
             (2440, 2533, 1669, 1760, 2568, 1673, 1740, 1783),
             (2440, 2533, 2073, 2165, 2568, 2078, 2142, 2187)]
for r, (a0, a1, l1, l2, tx, t1, t2, t3) in enumerate(RIGHT_LEG):
    sid = SIGNAL_IDS[r]
    seg(a0, a1, l1, BROWN)
    seg(a0, a1, l2, ORANGE)
    ann(tx, t1, m(f"<b>b</b><sub>{sid}</sub>"))
    ann(tx, t2, m(f"<b>AWx\u0302</b><sub>{sid}</sub>,"))
    ann(tx, t3, f"RRMSE = {RRMSE_B[r]}")

# axis titles
for yy in (961, 1943, 2925):
    ann(581.5, yy, "Wavenumber [cm<sup>\u22121</sup>]", xanchor="center")
    ann(2551.5, yy, "Mirror separation [\u00b5m]", xanchor="center")

layout["shapes"] = shapes
layout["annotations"] = annotations
fig.update_layout(**layout)
fig.write_html("out.html",
               config={"displayModeBar": False},
               post_script="document.body.style.margin='0';document.body.style.overflow='hidden';")
